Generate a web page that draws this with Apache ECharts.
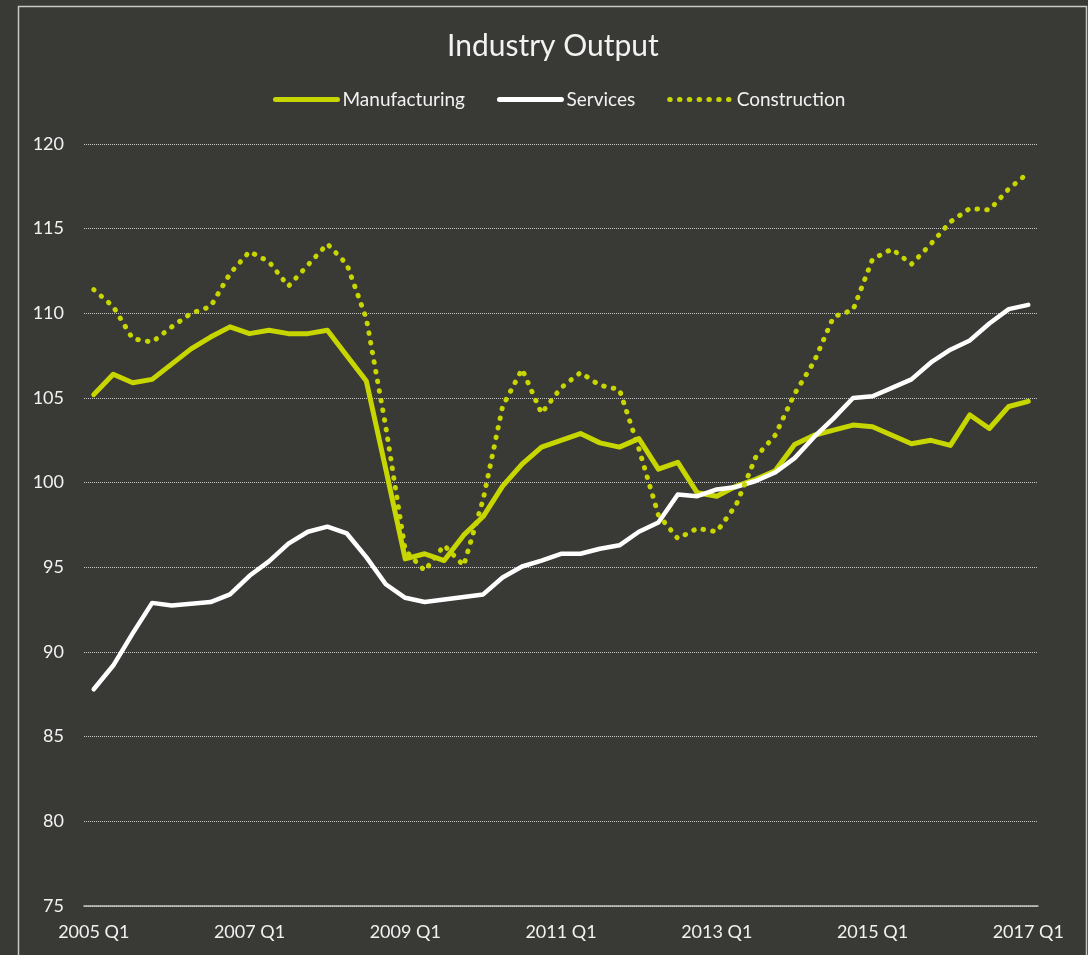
<!DOCTYPE html>
<html>
<head>
<meta charset="utf-8">
<title>Industry Output</title>
<script src="https://cdn.jsdelivr.net/npm/echarts@6/dist/echarts.min.js"></script>
<style>
  html, body { margin: 0; padding: 0; background: #393a35; }
  #chart { width: 1088px; height: 955px; }
</style>
</head>
<body>
<div id="chart"></div>
<script>
const quarters = [
  '2005 Q1', '2005 Q2', '2005 Q3', '2005 Q4',
  '2006 Q1', '2006 Q2', '2006 Q3', '2006 Q4',
  '2007 Q1', '2007 Q2', '2007 Q3', '2007 Q4',
  '2008 Q1', '2008 Q2', '2008 Q3', '2008 Q4',
  '2009 Q1', '2009 Q2', '2009 Q3', '2009 Q4',
  '2010 Q1', '2010 Q2', '2010 Q3', '2010 Q4',
  '2011 Q1', '2011 Q2', '2011 Q3', '2011 Q4',
  '2012 Q1', '2012 Q2', '2012 Q3', '2012 Q4',
  '2013 Q1', '2013 Q2', '2013 Q3', '2013 Q4',
  '2014 Q1', '2014 Q2', '2014 Q3', '2014 Q4',
  '2015 Q1', '2015 Q2', '2015 Q3', '2015 Q4',
  '2016 Q1', '2016 Q2', '2016 Q3', '2016 Q4',
  '2017 Q1'
];

const manufacturing = [
  105.2, 106.4, 105.9, 106.1, 107.0, 107.9, 108.6, 109.2,
  108.8, 109.0, 108.8, 108.8, 109.0, 107.5, 106.0, 100.8,
  95.5, 95.8, 95.4, 96.9, 98.0, 99.8, 101.1, 102.1,
  102.5, 102.9, 102.35, 102.1, 102.6, 100.8, 101.2, 99.4,
  99.2, 99.8, 100.2, 100.7, 102.25, 102.8, 103.1, 103.4,
  103.3, 102.8, 102.3, 102.5, 102.2, 104.0, 103.2, 104.5,
  104.8
];

const services = [
  87.8, 89.2, 91.1, 92.9, 92.75, 92.85, 92.95, 93.4,
  94.5, 95.35, 96.4, 97.1, 97.4, 97.0, 95.6, 94.0,
  93.2, 92.95, 93.1, 93.25, 93.4, 94.4, 95.05, 95.4,
  95.8, 95.8, 96.1, 96.3, 97.1, 97.65, 99.3, 99.2,
  99.6, 99.75, 100.1, 100.6, 101.45, 102.7, 103.8, 105.0,
  105.1, 105.6, 106.1, 107.1, 107.85, 108.4, 109.4, 110.25,
  110.5
];

const construction = [
  111.4, 110.4, 108.5, 108.3, 109.2, 110.0, 110.4, 112.35,
  113.65, 113.05, 111.6, 112.85, 114.1, 112.9, 109.7, 103.3,
  96.0, 94.8, 96.3, 95.1, 99.0, 104.5, 106.7, 104.1,
  105.6, 106.5, 105.75, 105.5, 102.0, 98.1, 96.7, 97.3,
  97.1, 98.7, 101.5, 102.8, 105.25, 107.15, 109.8, 110.2,
  113.2, 113.8, 112.9, 114.1, 115.4, 116.2, 116.1, 117.35,
  118.3
];

const GREEN = '#c8d600';
const TEXT = '#f2f2f2';
const GRID_LINE = '#c8c8c8';
const FONT = 'Lato';

const chart = echarts.init(document.getElementById('chart'));

const option = {
  backgroundColor: '#393a35',
  animation: false,
  title: {
    text: 'Industry Output',
    left: 447,
    top: 31,
    padding: 0,
    textStyle: {
      color: TEXT,
      fontSize: 30,
      fontWeight: 'normal',
      fontFamily: FONT
    }
  },
  legend: {
    left: 273,
    top: 90,
    padding: 0,
    itemWidth: 62,
    itemHeight: 14,
    itemGap: 32,
    itemStyle: { opacity: 0 },
    lineStyle: { width: 5 },
    textStyle: {
      color: TEXT,
      fontSize: 19,
      fontFamily: FONT
    },
    data: ['Manufacturing', 'Services', 'Construction']
  },
  graphic: [
    {
      type: 'rect',
      silent: true,
      shape: { x: 18.5, y: 6.5, width: 1068, height: 1000 },
      style: { fill: 'none', stroke: GRID_LINE, lineWidth: 1.5 }
    }
  ],
  grid: {
    left: 84,
    right: 50,
    top: 144,
    bottom: 49
  },
  xAxis: {
    type: 'category',
    data: quarters,
    boundaryGap: true,
    axisTick: { show: false },
    axisLine: { lineStyle: { color: GRID_LINE, width: 1.5 } },
    axisLabel: {
      interval: 7,
      color: TEXT,
      fontSize: 18,
      fontFamily: FONT,
      margin: 17
    },
    splitLine: { show: false }
  },
  yAxis: {
    type: 'value',
    min: 75,
    max: 120,
    interval: 5,
    axisLine: { show: false },
    axisTick: { show: false },
    axisLabel: {
      color: TEXT,
      fontSize: 18,
      fontFamily: FONT,
      margin: 20
    },
    splitLine: {
      lineStyle: { color: GRID_LINE, type: 'dotted', width: 1 }
    }
  },
  series: [
    {
      name: 'Manufacturing',
      type: 'line',
      data: manufacturing,
      showSymbol: false,
      symbol: 'none',
      lineStyle: { color: GREEN, width: 5, cap: 'round', join: 'round' },
      itemStyle: { color: GREEN }
    },
    {
      name: 'Services',
      type: 'line',
      data: services,
      showSymbol: false,
      symbol: 'none',
      lineStyle: { color: '#ffffff', width: 4.5, cap: 'round', join: 'round' },
      itemStyle: { color: '#ffffff' }
    },
    {
      name: 'Construction',
      type: 'line',
      data: construction,
      showSymbol: false,
      symbol: 'none',
      lineStyle: { color: GREEN, width: 5, type: [0.5, 9.3], cap: 'round', join: 'round' },
      itemStyle: { color: GREEN }
    }
  ]
};

chart.setOption(option);

window.addEventListener('resize', () => chart.resize());
</script>
</body>
</html>
